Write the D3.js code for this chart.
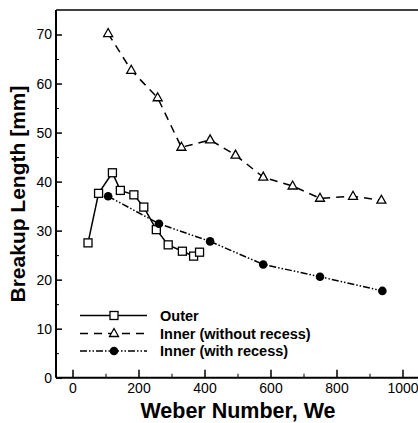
<!DOCTYPE html>
<html>
<head>
<meta charset="utf-8">
<script src="https://cdn.jsdelivr.net/npm/d3@7"></script>
<style>
  body { margin: 0; background: #fff; }
  svg { display: block; }
  text { font-family: "Liberation Sans", Arial, sans-serif; fill: #000; }
</style>
</head>
<body>
<div id="chart"></div>
<script>
// data
var outerWe = [47, 79, 121, 145, 186, 216, 254, 290, 333, 367, 385];
var outerL  = [27.5, 37.6, 41.8, 38.2, 37.3, 34.8, 30.2, 27.1, 25.8, 24.8, 25.6];

var noRecessWe = [108, 178, 258, 330, 417, 494, 578, 667, 750, 850, 936];
var noRecessL  = [70.2, 62.7, 57.1, 47.0, 48.5, 45.4, 40.9, 39.1, 36.6, 37.0, 36.2];

var recessWe = [108, 262, 417, 578, 750, 939];
var recessL  = [37.0, 31.4, 27.8, 23.1, 20.6, 17.7];

var xTicks = [0, 200, 400, 600, 800, 1000];
var yTicks = [0, 10, 20, 30, 40, 50, 60, 70];
var legendNames = ["Outer", "Inner (without recess)", "Inner (with recess)"];

var width = 418, height = 423;
var margin = {left: 56, top: 10, right: 0, bottom: 45};

var svg = d3.select("#chart").append("svg")
    .attr("width", width)
    .attr("height", height);

var x = d3.scaleLinear().domain([-50, 1050]).range([margin.left, 419]);
var y = d3.scaleLinear().domain([0, 75]).range([height - margin.bottom - 0.3, margin.top]);

// frame
svg.append("line").attr("x1", x(-50)).attr("x2", width).attr("y1", y(75)).attr("y2", y(75))
    .attr("stroke", "#000").attr("stroke-width", 1.5);
svg.append("line").attr("x1", x(-50)).attr("x2", x(-50)).attr("y1", y(75)).attr("y2", y(0))
    .attr("stroke", "#000").attr("stroke-width", 2);
svg.append("line").attr("x1", x(-50)).attr("x2", width).attr("y1", y(0)).attr("y2", y(0))
    .attr("stroke", "#000").attr("stroke-width", 2);

// axes with inward ticks
var xAxis = d3.axisBottom(x).tickValues(xTicks).tickFormat(d3.format("d"))
    .tickSizeInner(-8).tickSizeOuter(0).tickPadding(5);
var gx = svg.append("g").attr("transform", "translate(0," + y(0) + ")").call(xAxis);
gx.select(".domain").remove();
gx.selectAll(".tick line").attr("stroke-width", 1.5);
gx.selectAll("text").attr("font-size", 14);

var gxm = svg.append("g").attr("transform", "translate(0," + y(0) + ")")
    .call(d3.axisBottom(x).tickValues(d3.range(100, 1000, 200)).tickSize(-4).tickFormat(""));
gxm.select(".domain").remove();

var yAxis = d3.axisLeft(y).tickValues(yTicks).tickSizeInner(-6).tickSizeOuter(0).tickPadding(4);
var gy = svg.append("g").attr("transform", "translate(" + x(-50) + ",0)").call(yAxis);
gy.select(".domain").remove();
gy.selectAll(".tick line").attr("stroke-width", 1.5);
gy.selectAll("text").attr("font-size", 14);

var gym = svg.append("g").attr("transform", "translate(" + x(-50) + ",0)")
    .call(d3.axisLeft(y).tickValues(d3.range(5, 75, 10)).tickSize(-3).tickFormat(""));
gym.select(".domain").remove();

// axis titles
svg.append("text")
    .attr("x", 238).attr("y", 418)
    .attr("text-anchor", "middle")
    .attr("font-size", 21.5).attr("font-weight", "bold")
    .text("Weber Number, We");

svg.append("text")
    .attr("transform", "translate(25,194) rotate(-90)")
    .attr("text-anchor", "middle")
    .attr("font-size", 21).attr("font-weight", "bold")
    .text("Breakup Length [mm]");

var line = d3.line().x(function(d){ return x(d[0]); }).y(function(d){ return y(d[1]); });

var styles = [
    {dash: null, marker: "square"},
    {dash: "8,6", marker: "triangle"},
    {dash: "7,2,1.5,2,1.5,2", marker: "circle"}
];

var series = [
    d3.zip(outerWe, outerL),
    d3.zip(noRecessWe, noRecessL),
    d3.zip(recessWe, recessL)
];

function drawMarker(g, type, cx, cy) {
    if (type === "square") {
        g.append("rect").attr("x", cx - 4).attr("y", cy - 4).attr("width", 8).attr("height", 8)
            .attr("fill", "#fff").attr("stroke", "#000").attr("stroke-width", 1.3);
    } else if (type === "triangle") {
        g.append("path")
            .attr("d", "M" + cx + "," + (cy - 5) + "L" + (cx + 4.5) + "," + (cy + 3) + "L" + (cx - 4.5) + "," + (cy + 3) + "Z")
            .attr("fill", "#fff").attr("stroke", "#000").attr("stroke-width", 1.3);
    } else {
        g.append("circle").attr("cx", cx).attr("cy", cy).attr("r", 4.3).attr("fill", "#000");
    }
}

series.forEach(function(s, i) {
    svg.append("path").datum(s)
        .attr("d", line)
        .attr("fill", "none")
        .attr("stroke", "#000")
        .attr("stroke-width", 1.5)
        .attr("stroke-dasharray", styles[i].dash);
    var g = svg.append("g");
    s.forEach(function(d) { drawMarker(g, styles[i].marker, x(d[0]), y(d[1])); });
});

// legend
var legY = [315.5, 333.5, 351];
legendNames.forEach(function(name, i) {
    var g = svg.append("g");
    g.append("line").attr("x1", 80).attr("x2", 147).attr("y1", legY[i]).attr("y2", legY[i])
        .attr("stroke", "#000").attr("stroke-width", 1.5)
        .attr("stroke-dasharray", styles[i].dash);
    drawMarker(g, styles[i].marker, 114, legY[i]);
    g.append("text").attr("x", 160).attr("y", legY[i] + 5)
        .attr("font-size", 14.5).attr("font-weight", "bold")
        .text(name);
});
</script>
</body>
</html>
